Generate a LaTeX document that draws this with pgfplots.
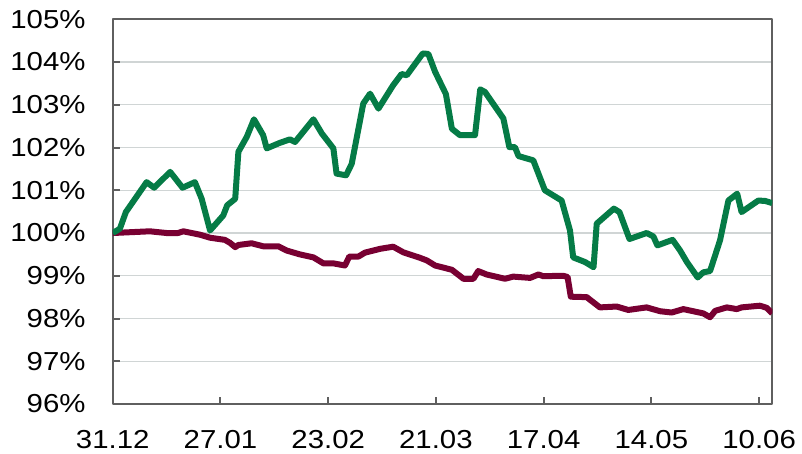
\documentclass[border=0pt]{standalone}
\usepackage{pgfplots}
\pgfplotsset{compat=1.18}
\usepackage{fontspec}
\setmainfont{Liberation Sans}[FakeStretch=1.13]
\definecolor{cgreen}{RGB}{5,123,70}
\definecolor{cred}{RGB}{120,0,50}
\definecolor{cgrid}{RGB}{208,213,213}
\definecolor{caxis}{RGB}{95,95,95}
\begin{document}
\begin{tikzpicture}
\begin{axis}[
  scale only axis,
  width=659.6pt, height=384.7pt,
  xmin=0, xmax=165.3, ymin=96, ymax=105,
  xtick={0,27,54,81,108,135,162},
  xticklabels={31.12,27.01,23.02,21.03,17.04,14.05,10.06},
  ytick={96,97,...,105},
  yticklabel={\pgfmathparse{int(round(\tick))}\pgfmathresult\%},
  xtick pos=bottom, ytick pos=left,
  tick align=inside,
  major tick length=7pt,
  ymajorgrids,
  grid style={color=cgrid, line width=1.3pt},
  axis line style={color=caxis, line width=2pt},
  every tick/.style={color=caxis, line width=2pt},
  tick label style={font=\fontsize{26}{30}\selectfont, text=black},
  yticklabel style={inner sep=0pt, anchor=east, xshift=-27pt},
  xticklabel style={inner sep=0pt, anchor=north, yshift=-26pt},
  line join=round,
]
\addplot[color=cred, line width=6pt, line join=round] coordinates {
(0,100.0) (9.3,100.04) (13.5,100.0) (16.4,100.0) (17.7,100.04) (21.9,99.96)
(24.4,99.89) (28.1,99.84) (29.4,99.77) (30.7,99.67) (31.5,99.72) (34.8,99.76)
(37.7,99.69) (41.5,99.69) (43.6,99.59) (46.9,99.50) (50.3,99.43) (52.8,99.29)
(55.3,99.29) (58.2,99.24) (59.3,99.45) (61.6,99.45) (63.2,99.54) (67.0,99.63)
(70.3,99.68) (72.8,99.55) (77.0,99.42) (78.7,99.36) (80.8,99.24) (85.0,99.14)
(87.9,98.93) (90.4,98.93) (91.6,99.11) (93.7,99.03) (98.3,98.93) (100.4,98.98)
(104.6,98.95) (106.7,99.03) (107.9,98.99) (112.9,99.00) (114.0,98.97) (114.8,98.51)
(118.8,98.50) (119.6,98.44) (122.1,98.26) (126.3,98.28) (129.2,98.20) (133.8,98.26)
(137.2,98.17) (140.1,98.14) (143.0,98.22) (148.0,98.12) (149.7,98.03) (151.0,98.18)
(153.9,98.26) (156.4,98.22) (157.6,98.26) (162.2,98.30) (163.9,98.25) (165.3,98.12)
};
\addplot[color=cgreen, line width=6pt, line join=round] coordinates {
(0,100.0) (1.8,100.1) (3.3,100.49) (8.5,101.19) (10.4,101.06) (14.4,101.43)
(17.5,101.06) (20.6,101.19) (22.3,100.80) (24.4,100.06) (27.7,100.41) (28.7,100.65)
(30.7,100.80) (31.5,101.90) (33.6,102.25) (35.4,102.66) (37.7,102.29) (38.6,101.98)
(41.9,102.11) (44.4,102.19) (45.7,102.13) (50.3,102.66) (52.4,102.33) (55.3,101.98)
(56.1,101.39) (58.5,101.35) (59.9,101.62) (62.8,103.03) (64.5,103.26) (66.6,102.91)
(70.3,103.46) (72.4,103.72) (73.7,103.69) (77.7,104.20) (79.1,104.19) (80.8,103.77)
(83.5,103.25) (85.0,102.44) (87.0,102.29) (90.8,102.29) (92.1,103.36) (93.3,103.30)
(95.0,103.07) (97.9,102.68) (99.4,102.01) (100.8,102.01) (101.7,101.80) (105.4,101.70)
(108.3,101.00) (112.5,100.76) (114.6,100.06) (115.4,99.43) (118.4,99.32) (120.5,99.20)
(121.3,100.22) (125.6,100.57) (127.0,100.49) (129.5,99.86) (133.8,100.00) (135.5,99.92)
(136.5,99.71) (140.3,99.84) (142.2,99.59) (143.9,99.32) (146.6,98.96) (148.0,99.08)
(149.7,99.11) (152.2,99.83) (154.3,100.76) (156.5,100.92) (157.6,100.49) (161.8,100.76)
(163.5,100.75) (165.3,100.70)
};
\end{axis}
\pgfresetboundingbox
\path[use as bounding box] (-112.7pt,-50pt) rectangle (689.3pt,404pt);
\end{tikzpicture}
\end{document}
